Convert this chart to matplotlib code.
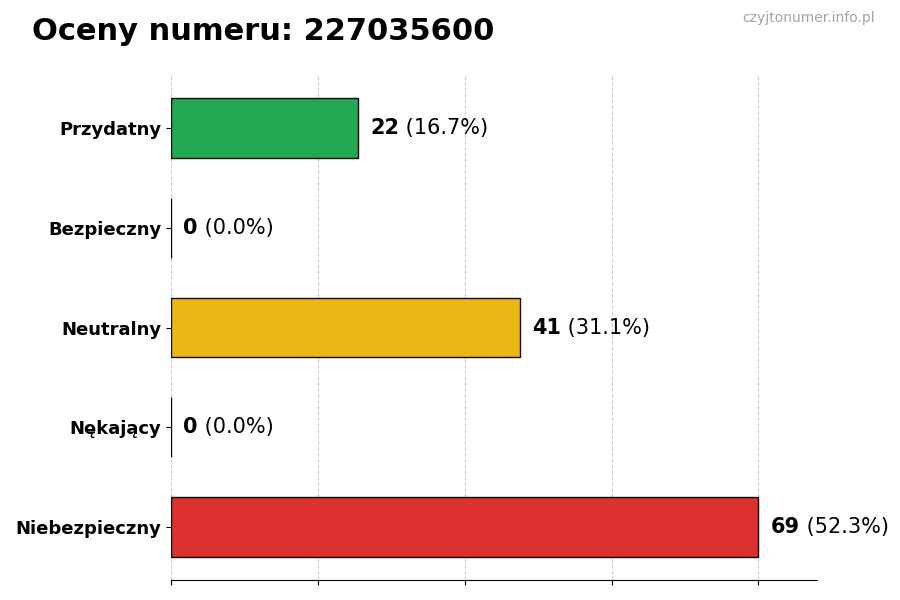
import matplotlib
matplotlib.use("Agg")
import matplotlib.pyplot as plt
import numpy as np

categories = ["Przydatny", "Bezpieczny", "Neutralny", "Nękający", "Niebezpieczny"]
values = [22, 0, 41, 0, 69]
percents = [16.7, 0.0, 31.1, 0.0, 52.3]
colors = ["#16a34a", "#9ca3af", "#eab308", "#f97316", "#dc2626"]
title = "Oceny numeru: 227035600"
watermark = "czyjtonumer.info.pl"

fig = plt.figure(figsize=(9, 6), dpi=100)
ax = fig.add_axes([0.19, 0.0333, 0.718, 0.8417])

y = np.arange(len(categories))
ax.barh(y, values, height=0.6, color=colors, alpha=0.95, edgecolor="black", linewidth=1, zorder=2)
ax.set_yticks(y)
ax.set_yticklabels(categories, fontsize=13, fontweight="bold")
ax.invert_yaxis()

vmax = max(values)
ax.set_xlim(0, vmax * 1.1)
ax.set_xticks(np.linspace(0, vmax, 5))
ax.set_xticklabels([])
ax.grid(axis="x", linestyle="--", color="#cfcfcf", linewidth=0.8, zorder=1)
ax.set_axisbelow(True)

for s in ["top", "right", "left"]:
    ax.spines[s].set_visible(False)

off = vmax * 1.1 * 12 / 646
for yi, v, p in zip(y, values, percents):
    t = ax.text(v + off, yi, f"{v}", fontsize=15, fontweight="bold", va="center", ha="left", zorder=4)
    fig.canvas.draw()
    bb = t.get_window_extent()
    inv = ax.transData.inverted()
    x_end = inv.transform((bb.x1, 0))[0]
    ax.text(x_end, yi, f" ({p:.1f}%)", fontsize=15, va="center", ha="left", zorder=4)

fig.text(32 / 900, 1 - 31 / 600, title, fontsize=22, fontweight="bold", va="center", ha="left")
fig.text(875 / 900, 1 - 18 / 600, watermark, fontsize=10, color="#a3a3a3", va="center", ha="right")

fig.savefig("out.png", dpi=100)
